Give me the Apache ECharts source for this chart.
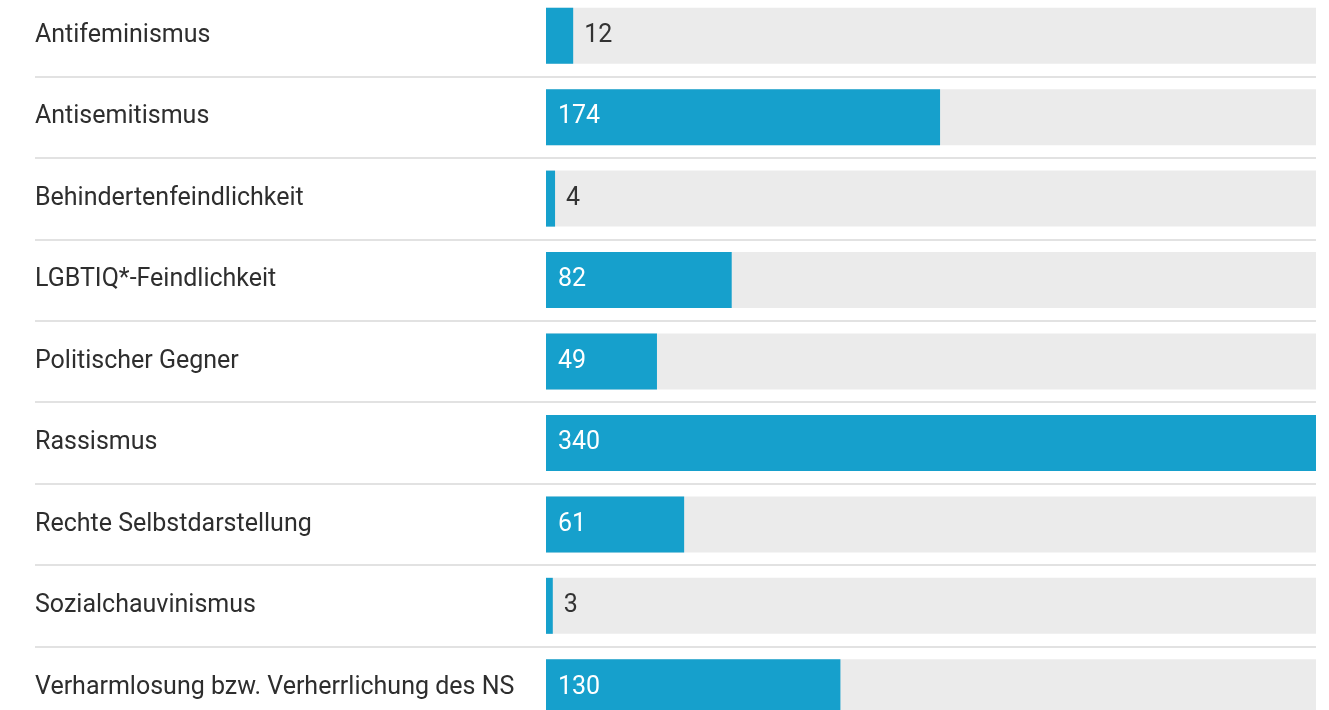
<!DOCTYPE html>
<html lang="de">
<head>
    <meta charset="UTF-8">
    <title>Motive</title>
    <style>
        * {
            margin: 0;
            padding: 0;
        }

        html,
        body {
            width: 100%;
            height: 100%;
            background: #fff;
            overflow: hidden;
        }

        /* Diagramm ist oben und unten angeschnitten */
        #chart {
            position: absolute;
            left: 0;
            top: -5px;
            width: 1329px;
            height: 733px;
        }
    </style>
</head>
<body>
    <div id="chart"></div>
    <script src="https://cdn.jsdelivr.net/npm/echarts@6/dist/echarts.min.js"></script>
    <script>
        // Kategorien und Werte
        const categories = [
            'Antifeminismus',
            'Antisemitismus',
            'Behindertenfeindlichkeit',
            'LGBTIQ*-Feindlichkeit',
            'Politischer Gegner',
            'Rassismus',
            'Rechte Selbstdarstellung',
            'Sozialchauvinismus',
            'Verharmlosung bzw. Verherrlichung des NS'
        ]
        const values = [12, 174, 4, 82, 49, 340, 61, 3, 130]

        const blue = '#16a0cc'
        const fontFam = 'Roboto, "Noto Sans", sans-serif'

        // kleine Balken bekommen die Zahl rechts daneben, sonst innen links
        const barData = values.map(function (v) {
            const small = v < 20
            return {
                value: v,
                label: small ? {
                    position: 'right',
                    distance: 11,
                    color: '#333'
                } : {
                    position: 'insideLeft',
                    distance: 12,
                    color: '#fff'
                }
            }
        })

        const chart = echarts.init(document.getElementById('chart'))
        chart.setOption({
            animation: false,
            grid: [
                // Trennlinien + Beschriftung über die ganze Breite
                { left: 35, right: 13, top: 0, bottom: 0 },
                // Balken
                { left: 546, right: 13, top: 0, bottom: 0 }
            ],
            xAxis: [{
                gridIndex: 0,
                type: 'value',
                min: 0,
                max: 1,
                show: false
            }, {
                gridIndex: 1,
                type: 'value',
                min: 0,
                max: 'dataMax',
                show: false
            }],
            yAxis: [{
                gridIndex: 0,
                type: 'category',
                data: categories,
                inverse: true,
                axisLine: { show: false },
                axisTick: { show: false },
                splitLine: {
                    show: true,
                    lineStyle: { color: '#e2e2e2', width: 2 }
                },
                axisLabel: {
                    inside: true,
                    margin: 0,
                    align: 'left',
                    fontFamily: fontFam,
                    fontSize: 25,
                    color: '#2e2e2e'
                }
            }, {
                gridIndex: 1,
                type: 'category',
                data: categories,
                inverse: true,
                show: false
            }],
            series: [{
                type: 'bar',
                xAxisIndex: 1,
                yAxisIndex: 1,
                barWidth: 56,
                data: barData,
                itemStyle: { color: blue },
                showBackground: true,
                backgroundStyle: { color: '#ebebeb' },
                label: {
                    show: true,
                    fontFamily: fontFam,
                    fontSize: 25
                }
            }]
        })
    </script>
</body>
</html>
